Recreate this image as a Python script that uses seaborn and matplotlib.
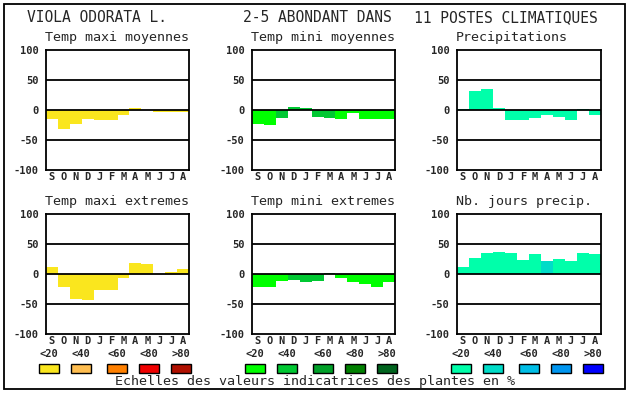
"""Viola odorata: indicator values across 11 climate stations, six monthly panels."""
import seaborn as sns
import pandas as pd
from matplotlib import pyplot as plt
from matplotlib.patches import Rectangle

months = ['S', 'O', 'N', 'D', 'J', 'F', 'M', 'A', 'M', 'J', 'J', 'A']
classes = ['<20', '<40', '<60', '<80', '>80']

yellows = ['#FAE61E', '#FFBE50', '#FF8000', '#F00000', '#B01000']
greens = ['#00FF00', '#00C832', '#00A028', '#008000', '#00641E']
blues = ['#00FFAA', '#00DCC8', '#00BEE6', '#0096F0', '#0000FF']

tmax_moy = [-15, -32, -23, -15, -17, -17, -8, 4, 0, -4, -4, -4]
tmax_moy_cls = ['<20'] * 12
tmin_moy = [-23, -25, -13, 5, 3, -12, -13, -15, -5, -15, -15, -15]
tmin_moy_cls = ['<20', '<20', '<40', '<40', '<40', '<40', '<40', '<20', '<20', '<20', '<20', '<20']
precip = [2, 32, 35, 3, -16, -16, -13, -8, -12, -16, 2, -8]
precip_cls = ['<20'] * 12
tmax_ext = [11, -21, -42, -44, -26, -26, -6, 18, 16, 0, 4, 8]
tmax_ext_cls = ['<20'] * 12
tmin_ext = [-21, -21, -12, -10, -14, -11, 2, -7, -14, -17, -22, -14]
tmin_ext_cls = ['<20', '<20', '<20', '<40', '<40', '<40', '<40', '<20', '<20', '<20', '<20', '<20']
jours = [12, 27, 35, 37, 35, 24, 34, 22, 25, 22, 35, 34]
jours_cls = ['<20'] * 7 + ['<40'] + ['<20'] * 4

W, H = 630, 394
MONO = 'DejaVu Sans Mono'

sns.set_style('white')
plt.rcParams['font.family'] = [MONO]

fig = plt.figure(figsize=(W / 100, H / 100), dpi=100)


def px_axes(x0, y0, x1, y1):
    return fig.add_axes([x0 / W, 1 - y1 / H, (x1 - x0) / W, (y1 - y0) / H])


panels = [
    ('Temp maxi moyennes', tmax_moy, tmax_moy_cls, yellows, (46, 50, 189, 170)),
    ('Temp mini moyennes', tmin_moy, tmin_moy_cls, greens, (252, 50, 395, 170)),
    ('Precipitations', precip, precip_cls, blues, (457, 50, 601, 170)),
    ('Temp maxi extremes', tmax_ext, tmax_ext_cls, yellows, (46, 214, 189, 334)),
    ('Temp mini extremes', tmin_ext, tmin_ext_cls, greens, (252, 214, 395, 334)),
    ('Nb. jours precip.', jours, jours_cls, blues, (457, 214, 601, 334)),
]

for title, vals, cls, pal, box in panels:
    ax = px_axes(*box)
    df = pd.DataFrame({'pos': list(range(12)), 'val': vals, 'cls': cls})
    sns.barplot(data=df, x='pos', y='val', hue='cls', hue_order=classes,
                palette=dict(zip(classes, pal)), dodge=False, width=1,
                saturation=1, linewidth=0, legend=False, ax=ax, zorder=2)
    for yv in (-50, 0, 50):
        ax.axhline(yv, color='black', lw=1.3, zorder=3)
    ax.set_xlim(-0.5, 11.5)
    ax.set_ylim(-100, 100)
    ax.set_yticks([-100, -50, 0, 50, 100])
    ax.set_yticklabels(['-100', '-50', '0', '50', '100'], fontsize=7.5,
                       fontweight='bold')
    ax.set_xticks(range(12))
    ax.set_xticklabels(months, fontsize=7.5, fontweight='bold')
    ax.tick_params(axis='y', length=0, pad=5.5)
    ax.tick_params(axis='x', length=0, pad=1.5)
    ax.set_xlabel('')
    ax.set_ylabel('')
    for sp in ax.spines.values():
        sp.set_visible(True)
        sp.set_color('black')
        sp.set_linewidth(1.3)
    fig.text((box[0] - 1) / W, 1 - (box[1] - 12) / H, title, ha='left',
             va='center', fontsize=9.6)

# header
fig.text(27 / W, 1 - 18 / H, 'VIOLA ODORATA L.', ha='left', va='center', fontsize=10.5)
fig.text(243 / W, 1 - 18 / H, '2-5 ABONDANT DANS', ha='left', va='center', fontsize=10.5)
fig.text(414 / W, 1 - 18 / H, '11 POSTES CLIMATIQUES', ha='left', va='center', fontsize=10.5)

# scale legend
legend_x = [
    (yellows, [49, 81, 117, 149, 181]),
    (greens, [255, 287, 323, 355, 387]),
    (blues, [461, 493, 529, 561, 593]),
]
for pal, centers in legend_x:
    for col, cx, lab in zip(pal, centers, classes):
        fig.patches.append(Rectangle(((cx - 10) / W, 1 - 373 / H), 20 / W, 9 / H,
                                     transform=fig.transFigure, facecolor=col,
                                     edgecolor='black', lw=1))
        fig.text(cx / W, 1 - 354 / H, lab, ha='center', va='center',
                 fontsize=7.5, fontweight='bold')

fig.text(315 / W, 1 - 382 / H, 'Echelles des valeurs indicatrices des plantes en %',
         ha='center', va='center', fontsize=9.6)

# outer frame
fig.patches.append(Rectangle((4 / W, 1 - 389 / H), 621 / W, 385 / H,
                             transform=fig.transFigure, fill=False,
                             edgecolor='black', lw=1.3))

fig.savefig('out.png', dpi=100)
